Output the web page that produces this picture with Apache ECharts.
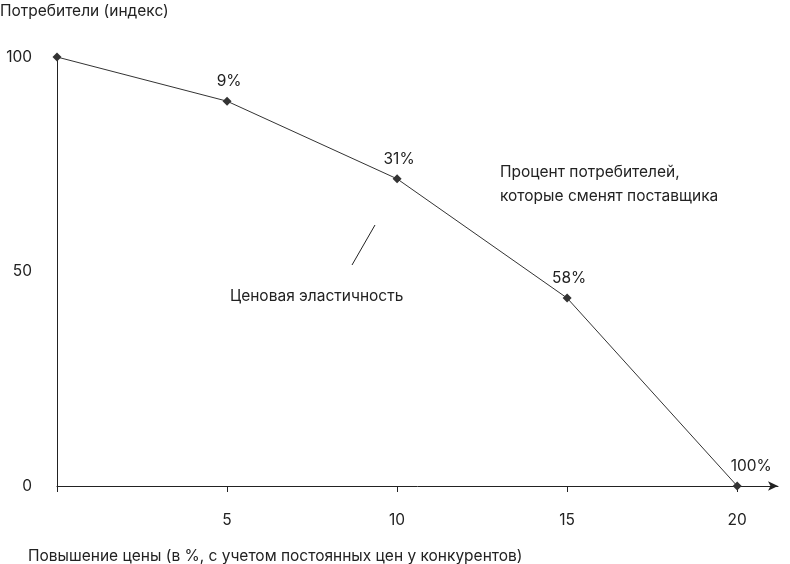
<!DOCTYPE html>
<html><head><meta charset="utf-8">
<script src="https://cdn.jsdelivr.net/npm/echarts@6/dist/echarts.min.js"></script>
<style>html,body{margin:0;background:#fff}#c{width:790px;height:564px}</style>
</head><body><div id="c"></div>
<script>
const priceIncrease = [0, 5, 10, 15, 20];
const consumers = [100, 89.7, 71.6, 43.8, 0];
const switchPct = ['', '9%', '31%', '58%', '100%'];
const elasticity = ['', '-1.80', '-3.10', '-3.87', ''];
const yTicks = [0, 50, 100];

const F = 'Inter, Roboto, sans-serif';
const C = '#222';
const FS = 15.5;
const chart = echarts.init(document.getElementById('c'));
chart.setOption({
  animation: false,
  grid: {left: 57, right: 12, top: 57, bottom: 78, containLabel: false, outerBoundsMode: 'none'},
  xAxis: {type: 'value', min: 0, max: 21.2, interval: 5,
    axisLine: {lineStyle: {color: C, width: 1}, symbol: ['none', 'arrow'], symbolSize: [7, 10]},
    axisTick: {show: true, length: 6, lineStyle: {color: C}, customValues: [0,5,10,15,20]},
    axisLabel: {customValues: [5,10,15,20], color: C, fontFamily: F, fontSize: FS, margin: 26},
    splitLine: {show: false},
    name: 'Повышение цены (в %, с учетом постоянных цен у конкурентов)',
    nameLocation: 'start', nameGap: 0,
    nameTextStyle: {color: C, fontFamily: F, fontSize: FS, align: 'left', verticalAlign: 'top', padding: [62, 0, 0, -29]}},
  yAxis: {type: 'value', min: 0, max: 100, interval: 50,
    axisLine: {show: true, lineStyle: {color: C}},
    axisTick: {show: false},
    axisLabel: {customValues: yTicks, color: C, fontFamily: F, fontSize: FS, margin: 25},
    splitLine: {show: false},
    name: 'Потребители (индекс)', nameLocation: 'end', nameGap: 0,
    nameTextStyle: {color: C, fontFamily: F, fontSize: FS, align: 'left', verticalAlign: 'bottom', padding: [0, 0, 38, -57]}},
  series: [{
    type: 'line', symbol: 'diamond', symbolSize: 9, z: 3,
    itemStyle: {color: '#333'}, lineStyle: {color: '#333', width: 1},
    data: priceIncrease.map((x, i) => ({value: [x, consumers[i]],
      label: {show: !!switchPct[i], formatter: switchPct[i], position: 'top',
        offset: i === 4 ? [14, -2] : [2, -2], color: C, fontFamily: F, fontSize: FS}}))
  }, {
    type: 'line', symbol: 'circle', symbolSize: 1, showSymbol: true, z: 2,
    itemStyle: {opacity: 0}, lineStyle: {opacity: 0},
    data: priceIncrease.map((x, i) => ({value: [x, consumers[i]],
      label: {show: !!elasticity[i], formatter: elasticity[i], position: 'inside',
        offset: [-26, 27], color: C, fontFamily: F, fontSize: FS}}))
  }],
  graphic: [
    {type: 'text', left: 500, top: 160, style: {text: 'Процент потребителей,\nкоторые сменят поставщика', fill: C, font: FS + 'px ' + F, lineHeight: 24}},
    {type: 'text', left: 230, top: 288, style: {text: 'Ценовая эластичность', fill: C, font: FS + 'px ' + F}},
    {type: 'line', shape: {x1: 352, y1: 265, x2: 375, y2: 225}, style: {stroke: C, lineWidth: 1}}
  ]
});
</script></body></html>
